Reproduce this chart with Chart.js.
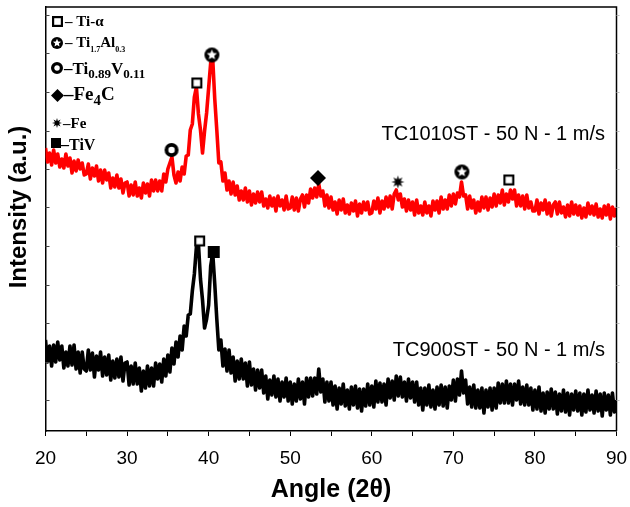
<!DOCTYPE html>
<html>
<head>
<meta charset="utf-8">
<script src="https://cdn.jsdelivr.net/npm/chart.js@4.4.1/dist/chart.umd.min.js"></script>
<style>
  html, body { margin: 0; padding: 0; background: #fff; }
  canvas { display: block; }
</style>
</head>
<body>
<canvas id="xrd" width="630" height="507"></canvas>
<script>
// Diffractogram scan: 2θ from 20° to 90°, step 0.25°
const scanStart = 20;
const scanStep = 0.25;

// TC1010ST - 50 N - 1 m/s (upper, red), intensity in a.u.
const tc1010st = [
  283,269,278,266,281,268,277,264,272,263,277,265,273,258,270,260,271,262,268,256,
  257,267,252,263,255,265,250,261,248,261,251,258,243,253,244,256,243,252,238,248,
  249,235,246,236,249,235,243,233,248,238,247,235,251,240,251,240,250,240,257,249,
  262,268,274,256,248,259,250,264,257,275,276,301,307,334,344,317,301,278,300,318,
  343,368,372,332,301,268,269,250,258,241,250,237,249,236,245,231,240,231,243,229,
  240,226,237,228,239,229,239,225,232,223,235,225,233,220,235,225,231,221,235,222,
  223,234,221,233,220,232,236,224,236,228,242,233,243,234,247,235,240,225,236,223,
  234,221,229,217,231,221,232,218,226,217,228,220,230,215,227,218,229,221,229,217,
  218,230,222,233,218,230,222,234,224,235,222,237,241,231,237,224,232,220,231,221,
  229,216,231,218,225,216,229,218,225,215,230,221,230,218,234,222,231,222,236,225,
  237,227,238,234,249,235,236,222,235,223,231,218,229,220,234,223,234,221,233,224,
  237,225,236,228,241,226,237,229,241,232,241,225,236,225,235,222,236,223,229,220,
  220,231,217,228,221,231,217,228,215,226,229,217,229,218,224,214,226,215,229,217,
  226,216,225,213,223,214,228,217,225,216,227,214,222,213,225,216,226,212,224,215,
  223
];

// TC900ST - 50 N - 1 m/s (lower, black), intensity in a.u.
const tc900st = [
  91,69,85,65,86,69,89,71,85,63,79,65,85,66,86,62,79,58,79,62,
  60,81,61,78,54,75,61,79,55,74,56,76,51,70,53,72,54,74,50,68,
  69,46,65,47,68,47,63,40,60,43,65,45,63,45,68,52,67,49,72,55,
  76,59,83,67,89,74,95,81,105,95,116,117,140,157,184,187,152,131,103,112,
  126,165,178,147,112,81,91,65,82,60,81,58,74,50,70,52,72,52,68,45,
  69,46,62,41,61,43,61,38,55,32,51,36,55,34,52,30,49,34,53,30,
  49,27,47,30,52,32,49,27,53,34,53,35,53,37,62,39,52,29,49,30,
  49,26,45,22,43,27,47,25,41,22,44,26,45,23,42,20,42,25,47,26,
  45,24,50,29,48,29,47,26,52,33,50,31,55,35,54,34,49,30,52,33,
  49,29,49,26,43,21,43,26,46,24,41,22,44,26,46,25,44,23,45,31,
  51,30,52,36,60,38,51,27,44,24,46,23,41,23,43,18,41,24,43,21,
  43,23,48,28,47,28,50,28,47,26,47,31,50,27,44,26,46,26,43,21,
  41,22,44,20,38,18,39,22,42,22,39,17,37,20,41,19,38,16,37,21,
  40,20,38,16,37,19,41,21,36,18,40,20,37,15,38,21,36,16,38,19,
  31
];

// Phase identification marks: [2θ, intensity]
const tiAlphaPeaks   = [[38.55, 348], [76.8, 251], [38.9, 190]];
const ti17Al03Peaks  = [[40.4, 376], [71.05, 259]];
const ti089V011Peaks = [[35.45, 281]];
const fe4cPeaks      = [[53.4, 253]];
const fePeaks        = [[63.2, 249]];
const tivPeaks       = [[40.62, 179]];

// Axis settings
const angleMin = 20, angleMax = 90, angleStep = 5;
const intensityMin = 0, intensityMax = 424;
const intensityTicks = [31, 69.5, 108, 146.5, 185, 223.5, 262, 300.5, 339, 377.5, 416];

const SANS = '"Liberation Sans", Arial, sans-serif';
const SERIF = '"Liberation Serif", "Times New Roman", serif';

// ---- phase symbols, painted once onto small canvases ----
function makeSymbol(kind, size) {
  const pad = 2;
  const c = document.createElement('canvas');
  c.width = c.height = Math.ceil(size + pad * 2);
  const g = c.getContext('2d');
  const m = c.width / 2;
  const r = size / 2;
  g.fillStyle = '#000';
  g.strokeStyle = '#000';
  if (kind === 'openSquare') {
    const lw = Math.max(1.8, size * 0.2);
    g.fillStyle = '#fff';
    g.fillRect(m - r, m - r, size, size);
    g.lineWidth = lw;
    g.strokeRect(m - r + lw / 2, m - r + lw / 2, size - lw, size - lw);
  } else if (kind === 'filledSquare') {
    g.fillRect(m - r, m - r, size, size);
  } else if (kind === 'starCircle') {
    g.beginPath(); g.arc(m, m, r, 0, Math.PI * 2); g.fill();
    g.fillStyle = '#fff';
    const ro = r * 0.72, ri = ro * 0.45;
    g.beginPath();
    for (let k = 0; k < 10; k++) {
      const rad = k % 2 === 0 ? ro : ri;
      const ang = -Math.PI / 2 + k * Math.PI / 5;
      const px = m + rad * Math.cos(ang), py = m + rad * Math.sin(ang);
      k === 0 ? g.moveTo(px, py) : g.lineTo(px, py);
    }
    g.closePath(); g.fill();
  } else if (kind === 'ring') {
    const lw = size * 0.27;
    g.fillStyle = '#fff';
    g.beginPath(); g.arc(m, m, r - lw / 2, 0, Math.PI * 2); g.fill();
    g.lineWidth = lw;
    g.stroke();
  } else if (kind === 'diamond') {
    g.beginPath();
    g.moveTo(m, m - r); g.lineTo(m + r, m); g.lineTo(m, m + r); g.lineTo(m - r, m);
    g.closePath(); g.fill();
  } else if (kind === 'burst') {
    const ri = r * 0.45;
    g.beginPath();
    for (let k = 0; k < 16; k++) {
      const rad = k % 2 === 0 ? r : ri;
      const ang = -Math.PI / 2 + k * Math.PI / 8;
      const px = m + rad * Math.cos(ang), py = m + rad * Math.sin(ang);
      k === 0 ? g.moveTo(px, py) : g.lineTo(px, py);
    }
    g.closePath(); g.fill();
  }
  return c;
}

const plotSymbols = {
  tiAlpha: makeSymbol('openSquare', 11),
  tiAl: makeSymbol('starCircle', 15),
  tiV011: makeSymbol('ring', 14),
  fe4c: makeSymbol('diamond', 16),
  fe: makeSymbol('burst', 13),
  tiv: makeSymbol('filledSquare', 12)
};
const keySymbols = {
  tiAlpha: makeSymbol('openSquare', 11),
  tiAl: makeSymbol('starCircle', 12),
  tiV011: makeSymbol('ring', 12),
  fe4c: makeSymbol('diamond', 13),
  fe: makeSymbol('burst', 10),
  tiv: makeSymbol('filledSquare', 10)
};

const toXY = (vals) => vals.map((v, i) => ({ x: scanStart + i * scanStep, y: v }));
const toPts = (pairs) => pairs.map(p => ({ x: p[0], y: p[1] }));

function markerSet(pairs, sym) {
  return {
    type: 'scatter',
    data: toPts(pairs),
    pointStyle: sym,
    pointRadius: 6,
    pointHoverRadius: 6,
    showLine: false,
    clip: false,
    order: 0
  };
}

// ---- phase key, curve captions, axis titles and frame ----
const phaseKey = [
  { sym: 'tiAlpha', x: 57, y: 21, tx: 65, base: 26, parts: [['– Ti-α', 15, 0]] },
  { sym: 'tiAl', x: 57, y: 43, tx: 65, base: 47, parts: [['– Ti', 15, 0], ['1.7', 8, 5], ['Al', 15, 0], ['0.3', 8, 5]] },
  { sym: 'tiV011', x: 57, y: 68, tx: 64, base: 74, parts: [['–Ti', 17, 0], ['0.89', 13, 4], ['V', 17, 0], ['0.11', 13, 4]] },
  { sym: 'fe4c', x: 57, y: 95, tx: 64, base: 100, parts: [['–Fe', 19, 0], ['4', 15, 5], ['C', 19, 0]] },
  { sym: 'fe', x: 57, y: 123, tx: 63, base: 128, parts: [['–Fe', 15, 0]] },
  { sym: 'tiv', x: 56, y: 143, tx: 61, base: 150, parts: [['–TiV', 16, 0]] }
];

const decor = {
  id: 'decor',
  afterDraw(chart) {
    const { ctx, chartArea: a, scales: { y } } = chart;
    ctx.save();

    // top and right frame lines
    ctx.strokeStyle = '#000';
    ctx.lineWidth = 1.5;
    ctx.beginPath();
    ctx.moveTo(a.left, a.top);
    ctx.lineTo(a.right, a.top);
    ctx.lineTo(a.right, a.bottom);
    ctx.stroke();

    // intensity ticks: inward on the left, faint outward on the right
    intensityTicks.forEach(v => {
      const py = Math.round(y.getPixelForValue(v)) + 0.5;
      ctx.lineWidth = 1;
      ctx.strokeStyle = '#444';
      ctx.beginPath(); ctx.moveTo(a.left, py); ctx.lineTo(a.left + 4, py); ctx.stroke();
      ctx.strokeStyle = '#bbb';
      ctx.beginPath(); ctx.moveTo(a.right, py); ctx.lineTo(a.right + 3, py); ctx.stroke();
    });

    // phase key
    ctx.fillStyle = '#000';
    ctx.textAlign = 'left';
    ctx.textBaseline = 'alphabetic';
    phaseKey.forEach(row => {
      const s = keySymbols[row.sym];
      ctx.drawImage(s, Math.round(row.x - s.width / 2), Math.round(row.y - s.height / 2));
      let cx = row.tx;
      row.parts.forEach(([t, size, dy]) => {
        ctx.font = 'bold ' + size + 'px ' + SERIF;
        ctx.fillText(t, cx, row.base + dy);
        cx += ctx.measureText(t).width;
      });
    });

    // curve captions
    ctx.font = '20px ' + SANS;
    ctx.textAlign = 'right';
    ctx.fillText('TC1010ST - 50 N - 1 m/s', 605, 140);
    ctx.fillText('TC900ST - 50 N - 1 m/s', 605, 356);

    // axis titles
    ctx.font = 'bold 25px ' + SANS;
    ctx.textAlign = 'center';
    ctx.fillText('Angle (2θ)', (a.left + a.right) / 2, 497);
    ctx.save();
    ctx.translate(26, (a.top + a.bottom) / 2 - 12);
    ctx.rotate(-Math.PI / 2);
    ctx.font = 'bold 24px ' + SANS;
    ctx.fillText('Intensity (a.u.)', 0, 0);
    ctx.restore();

    ctx.restore();
  }
};

new Chart(document.getElementById('xrd'), {
  type: 'line',
  data: {
    datasets: [
      markerSet(tiAlphaPeaks, plotSymbols.tiAlpha),
      markerSet(ti17Al03Peaks, plotSymbols.tiAl),
      markerSet(ti089V011Peaks, plotSymbols.tiV011),
      markerSet(fe4cPeaks, plotSymbols.fe4c),
      markerSet(fePeaks, plotSymbols.fe),
      markerSet(tivPeaks, plotSymbols.tiv),
      {
        label: 'TC1010ST - 50 N - 1 m/s',
        data: toXY(tc1010st),
        borderColor: '#ff0000',
        borderWidth: 3.6,
        borderJoinStyle: 'round',
        pointRadius: 0,
        tension: 0,
        order: 2
      },
      {
        label: 'TC900ST - 50 N - 1 m/s',
        data: toXY(tc900st),
        borderColor: '#000000',
        borderWidth: 3.6,
        borderJoinStyle: 'round',
        pointRadius: 0,
        tension: 0,
        order: 2
      }
    ]
  },
  options: {
    responsive: false,
    animation: false,
    events: [],
    devicePixelRatio: 1,
    layout: { padding: { top: 7, right: 13.5, left: 0, bottom: 0 } },
    plugins: { legend: { display: false }, tooltip: { enabled: false } },
    scales: {
      x: {
        type: 'linear',
        min: angleMin,
        max: angleMax,
        afterBuildTicks: s => {
          const t = [];
          for (let v = angleMin; v <= angleMax; v += angleStep) t.push({ value: v });
          s.ticks = t;
        },
        ticks: {
          autoSkip: false,
          maxRotation: 0,
          padding: 11,
          color: '#000',
          font: { family: SANS, size: 19 },
          callback: v => (v % 10 === 0 ? String(v) : '')
        },
        grid: { drawOnChartArea: false, drawTicks: true, tickLength: 5, color: '#000', lineWidth: 1 },
        border: { display: true, color: '#000', width: 1.5 },
        afterFit: s => { s.height = 76; s.paddingLeft = 0; s.paddingRight = 0; }
      },
      y: {
        min: intensityMin,
        max: intensityMax,
        afterBuildTicks: s => { s.ticks = intensityTicks.map(v => ({ value: v })); },
        ticks: { display: false },
        grid: { display: false },
        border: { display: true, color: '#000', width: 1.5 },
        afterFit: s => { s.width = 45.5; s.paddingTop = 0; s.paddingBottom = 0; }
      }
    }
  },
  plugins: [decor]
});
</script>
</body>
</html>
